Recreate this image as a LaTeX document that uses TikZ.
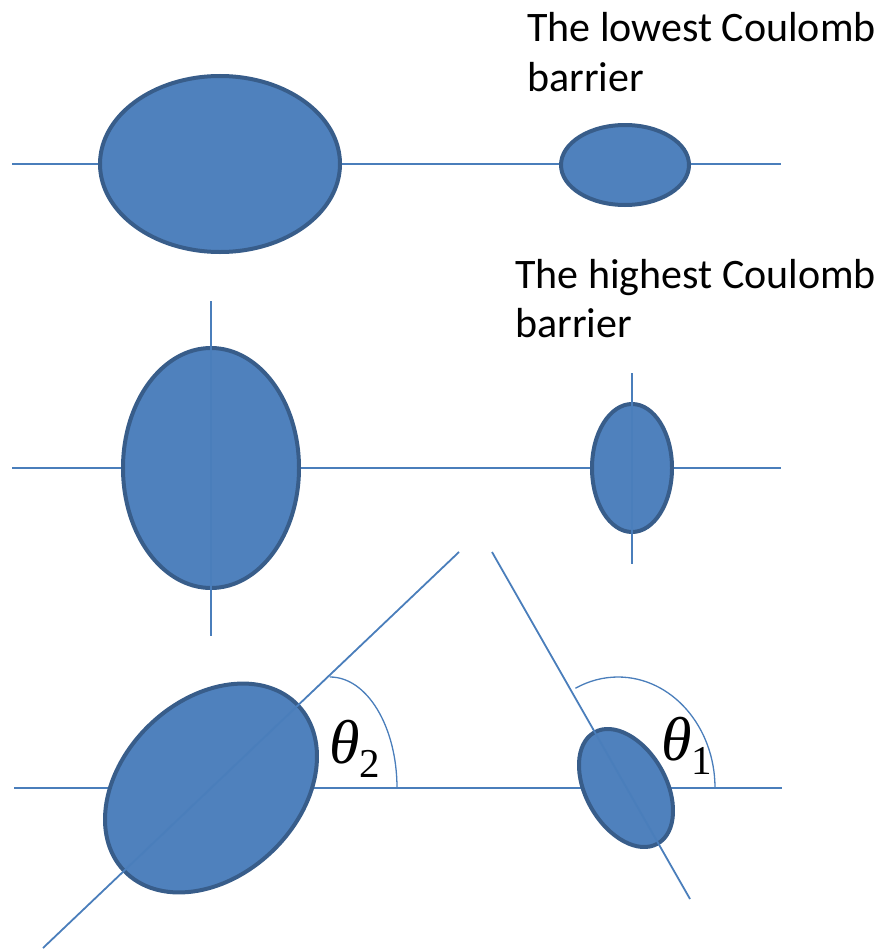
\documentclass[tikz,border=0pt]{standalone}
\usepackage{fontspec}
\setmainfont{Carlito}
\newfontfamily\tms{Liberation Serif}
\usetikzlibrary{shapes.geometric}
\definecolor{nucfill}{HTML}{4F81BD}
\definecolor{nucline}{HTML}{385D8A}
\definecolor{axiscol}{HTML}{4A7EBB}
\newcommand{\angsym}[1]{{\fontsize{62}{62}\selectfont\itshape θ}\raisebox{-14pt}{\fontsize{41}{41}\selectfont #1}}
\begin{document}
\begin{tikzpicture}[x=1pt,y=-1pt,
  nuc/.style={ellipse, draw=nucline, fill=nucfill, line width=4pt, inner sep=0pt, outer sep=0pt},
  bignuc/.style={nuc, minimum width=240pt, minimum height=176pt},
  smallnuc/.style={nuc, minimum width=128pt, minimum height=80pt},
  axisline/.style={draw=axiscol, line width=1.8pt},
  anglearc/.style={draw=axiscol, line width=1.3pt},
  lbl/.style={anchor=base west, inner sep=0pt, font=\fontsize{42}{50}\selectfont},
  ang/.style={anchor=base west, inner sep=0pt, font=\tms}]
\useasboundingbox (0,0) rectangle (883,950);

% Row 1: lowest barrier
\coordinate (r1l) at (12,164);
\coordinate (r1r) at (781,164);
\draw[axisline] (r1l) -- (r1r);
\node[bignuc] (big1) at (220,164) {};
\node[smallnuc] (small1) at (625,165) {};
\node[lbl] (t1a) at (527,42) {The lowest Coulomb};
\node[lbl] (t1b) at (527,91) {barrier};

% Row 2: highest barrier
\node[lbl] (t2a) at (515,288) {The highest Coulomb};
\node[lbl] (t2b) at (515,337) {barrier};
\coordinate (r2l) at (12,468);
\coordinate (r2r) at (781,468);
\draw[axisline] (r2l) -- (r2r);
\node[bignuc, rotate=90] (big2) at (211,468) {};
\node[smallnuc, rotate=90] (small2) at (632,468) {};
\coordinate (v1t) at (211,301);
\coordinate (v1b) at (211,636);
\coordinate (v2t) at (632,373);
\coordinate (v2b) at (632,564);
\draw[axisline] (v1t) -- (v1b);
\draw[axisline] (v2t) -- (v2b);

% Row 3: general orientation
\coordinate (r3l) at (14,788);
\coordinate (r3r) at (782,788);
\draw[axisline] (r3l) -- (r3r);
\node[bignuc, rotate=43.6] (big3) at (211,788) {};
\node[smallnuc, rotate=-60.3] (small3) at (626,788) {};
\coordinate (o1t) at (459,552);
\coordinate (o1b) at (43,948);
\coordinate (o2t) at (492,552);
\coordinate (o2b) at (690,899);
\draw[axisline] (o1t) -- (o1b);
\draw[axisline] (o2t) -- (o2b);

\coordinate (a2s) at (397,788);
\coordinate (a1s) at (715,788);
\draw[anglearc] (a2s) arc[start angle=0, end angle=90, x radius=67pt, y radius=111pt];
\draw[anglearc] (a1s) arc[start angle=0, end angle=116, x radius=97pt, y radius=111pt];
\node[ang] (th2) at (329,763) {\angsym{2}};
\node[ang] (th1) at (661,760) {\angsym{1}};
\end{tikzpicture}
\end{document}
